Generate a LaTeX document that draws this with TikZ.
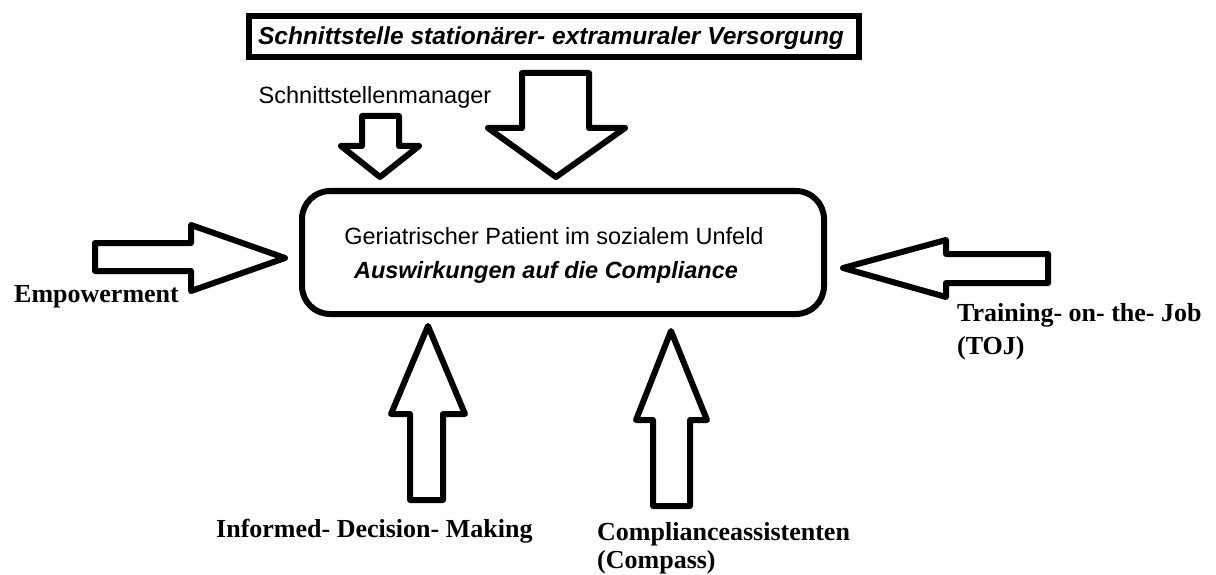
\documentclass[tikz,border=0pt]{standalone}
\usepackage{fontspec}
\setmainfont{Liberation Serif}
\setsansfont{Liberation Sans}
\begin{document}
\begin{tikzpicture}[x=1pt,y=-1pt,
  frame/.style={draw=black,line width=6pt,fill=white,inner sep=0pt},
  blockarrow/.style={draw=black,line width=6pt,line join=round,fill=white},
  sanslabel/.style={inner sep=0pt,font=\sffamily\fontsize{23.5}{28}\selectfont},
  sansemph/.style={inner sep=0pt,font=\sffamily\bfseries\itshape\fontsize{23.5}{28}\selectfont},
  seriflabel/.style={inner sep=0pt,anchor=base west,font=\rmfamily\bfseries\fontsize{26}{32}\selectfont}]
\useasboundingbox[fill=white] (0,0) rectangle (1216,575);

% block arrows pointing at the patient box
\draw[blockarrow] (362,116) -- (399,116) -- (399,146) -- (419,146) -- (380,177)
  -- (341,146) -- (362,146) -- cycle;
\draw[blockarrow] (522,73) -- (589,73) -- (589,128) -- (625,128) -- (556,177)
  -- (488,128) -- (522,128) -- cycle;
\draw[blockarrow] (95,243) -- (191,243) -- (191,225) -- (285,258) -- (191,291)
  -- (191,271) -- (95,271) -- cycle;
\draw[blockarrow] (843,268) -- (946,240) -- (946,254) -- (1048,254) -- (1048,283)
  -- (946,283) -- (946,297) -- cycle;
\draw[blockarrow] (428,326) -- (465,414) -- (443,414) -- (443,500) -- (410,500)
  -- (410,414) -- (391,414) -- cycle;
\draw[blockarrow] (671,331) -- (707,420) -- (690,420) -- (690,506) -- (653,506)
  -- (653,420) -- (636,420) -- cycle;

% frames
\node[frame,line width=6.5pt,minimum width=610pt,minimum height=41pt] (interface) at (554,36.5) {};
\node[frame,rounded corners=28pt,minimum width=522pt,minimum height=123pt] (patientbox) at (563,252.5) {};

% texts
\node[sansemph,font=\sffamily\bfseries\itshape\fontsize{24.5}{29}\selectfont] (title) at (551,38) {Schnittstelle stationärer- extramuraler Versorgung};
\node[sanslabel] (manager) at (375,97) {Schnittstellenmanager};
\node[sanslabel] (patient) at (554,236) {Geriatrischer Patient im sozialem Unfeld};
\node[sansemph] (compliance) at (546,272) {Auswirkungen auf die Compliance};
\node[seriflabel] (empowerment) at (14,302) {Empowerment};
\node[seriflabel] (toja) at (957,321) {Training- on- the- Job};
\node[seriflabel] (tojb) at (957,354) {(TOJ)};
\node[seriflabel] (informed) at (216,537) {Informed- Decision- Making};
\node[seriflabel] (compassa) at (597,540) {Complianceassistenten};
\node[seriflabel] (compassb) at (597,568) {(Compass)};
\end{tikzpicture}
\end{document}
